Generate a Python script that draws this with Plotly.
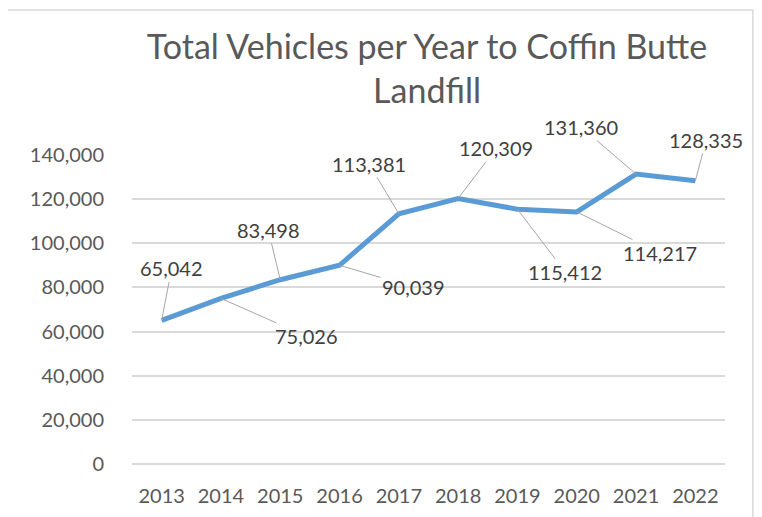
import plotly.graph_objects as go

years = ["2013", "2014", "2015", "2016", "2017", "2018", "2019", "2020", "2021", "2022"]
vehicles = [65042, 75026, 83498, 90039, 113381, 120309, 115412, 114217, 131360, 128335]
y_ticks = [0, 20000, 40000, 60000, 80000, 100000, 120000, 140000]

# label offsets (pixels, text centre relative to point)
label_dx = [10, 86, -12, 74, -30, 38, 48, 83, -55, 11]
label_dy = [-52, 38, -50, 22, -50, -50, 63, 41, -47, -41]

fig = go.Figure()
fig.add_trace(go.Scatter(
    x=years, y=vehicles, mode="lines",
    line=dict(color="#5B9BD5", width=5, shape="linear"),
    hoverinfo="skip", showlegend=False,
))

for i, (v, dx, dy) in enumerate(zip(vehicles, label_dx, label_dy)):
    fig.add_annotation(
        x=i, y=v, text=f"{v:,}", showarrow=True, arrowhead=0, arrowwidth=1,
        arrowcolor="#A6A6A6", ax=dx, ay=dy, standoff=0,
        font=dict(family="Lato", size=20, color="#404040"),
    )

fig.add_shape(type="rect", xref="paper", yref="paper",
              x0=-0.2125, x1=1.047, y0=-0.19, y1=1.469,
              line=dict(color="#D9D9D9", width=1.5), layer="below")

fig.update_layout(
    width=762, height=517,
    margin=dict(l=124, r=45, t=147, b=61),
    paper_bgcolor="white", plot_bgcolor="white",
    title=dict(text="Total Vehicles per Year to Coffin Butte<br>Landfill",
               x=419 / 762, xanchor="center", y=1 - 51 / 517, yanchor="middle",
               font=dict(family="Lato", size=34, color="#595959")),
    xaxis=dict(type="category", range=[-0.5, 9.5], showgrid=False, showline=False,
               zeroline=False, ticks="",
               tickfont=dict(family="Lato", size=20, color="#595959"),
               ticklabelstandoff=18),
    yaxis=dict(range=[0, 140000], tickvals=y_ticks, tickformat=",",
               showgrid=True, gridcolor="#D9D9D9", gridwidth=1.5,
               zeroline=True, zerolinecolor="#D9D9D9", zerolinewidth=1.5,
               showline=False, ticks="",
               tickfont=dict(family="Lato", size=20, color="#595959"),
               ticklabelstandoff=27),
)

fig.write_html("out.html")
